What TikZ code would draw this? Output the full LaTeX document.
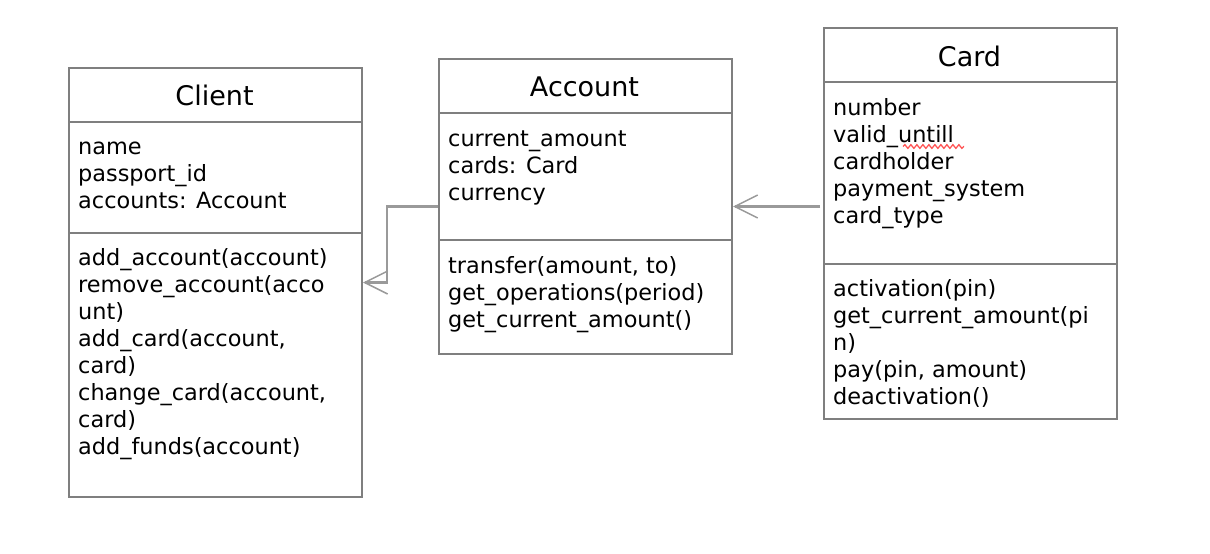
\documentclass[tikz,border=0pt]{standalone}
\usepackage{fontspec}
\setmainfont{DejaVu Sans}
\usetikzlibrary{arrows.meta,decorations.pathmorphing}
\definecolor{boxgray}{HTML}{7F7F7F}
\definecolor{linegray}{HTML}{9A9A9A}
\definecolor{squig}{HTML}{FF5555}
\begin{document}
\begin{tikzpicture}[x=1pt,y=-1pt,
  box/.style={draw=boxgray, line width=2pt, inner sep=0pt, anchor=north west},
  sep/.style={draw=boxgray, line width=2pt},
  ttl/.style={anchor=base, font=\fontsize{27}{32}\selectfont, inner sep=0pt},
  txt/.style={anchor=base west, font=\fontsize{22.4}{27}\selectfont, inner sep=0pt},
  conn/.style={draw=linegray, line width=2.2pt, -{Straight Barb[length=23pt,width=23pt,line width=1.5pt]}}]
\useasboundingbox (0,0) rectangle (1210,554);
% boxes
\node[box, minimum width=293pt, minimum height=429pt] (client) at (68,67) {};
\node[box, minimum width=293pt, minimum height=295pt] (account) at (438,58) {};
\node[box, minimum width=293pt, minimum height=391pt] (card) at (823,27) {};
% separators
\draw[sep] (client.west |- 0,122) -- (client.east |- 0,122);
\draw[sep] (client.west |- 0,233) -- (client.east |- 0,233);
\draw[sep] (account.west |- 0,113) -- (account.east |- 0,113);
\draw[sep] (account.west |- 0,240) -- (account.east |- 0,240);
\draw[sep] (card.west |- 0,82) -- (card.east |- 0,82);
\draw[sep] (card.west |- 0,264) -- (card.east |- 0,264);
% titles
\node[ttl] (client-t) at (214.5,105) {Client};
\node[ttl] (account-t) at (584.5,96) {Account};
\node[ttl] (card-t) at (969.5,66) {Card};
% client
\foreach \t [count=\i] in {name,passport\_id,accounts: Account}
  \node[txt] (cl-a\i) at (78,{154+27*(\i-1)}) {\t};
\foreach \t [count=\i] in {add\_account(account),remove\_account(acco,unt),{add\_card(account,},card),{change\_card(account,},card),add\_funds(account)}
  \node[txt] (cl-m\i) at (78,{265+27*(\i-1)}) {\t};
% account
\foreach \t [count=\i] in {current\_amount,cards: Card,currency}
  \node[txt] (ac-a\i) at (448,{146+27*(\i-1)}) {\t};
\foreach \t [count=\i] in {{transfer(amount, to)},get\_operations(period),get\_current\_amount()}
  \node[txt] (ac-m\i) at (448,{273+27*(\i-1)}) {\t};
% card
\foreach \t [count=\i] in {number,valid\_untill,cardholder,payment\_system,card\_type}
  \node[txt] (cd-a\i) at (833,{115+27*(\i-1)}) {\t};
\foreach \t [count=\i] in {activation(pin),get\_current\_amount(pi,n),{pay(pin, amount)},deactivation()}
  \node[txt] (cd-m\i) at (833,{296+27*(\i-1)}) {\t};
% spelling squiggle
\draw[squig, line width=1.3pt, decorate, decoration={snake, amplitude=1.8pt, segment length=6pt}] (903,146.5) -- (964,146.5);
% connectors
\draw[conn] (account.west) -- ++(-51,0) |- (client.east);
\coordinate (cardstart) at ([xshift=-3pt]card.west |- account.east);
\draw[conn] (cardstart) -- (account.east);
\end{tikzpicture}
\end{document}
